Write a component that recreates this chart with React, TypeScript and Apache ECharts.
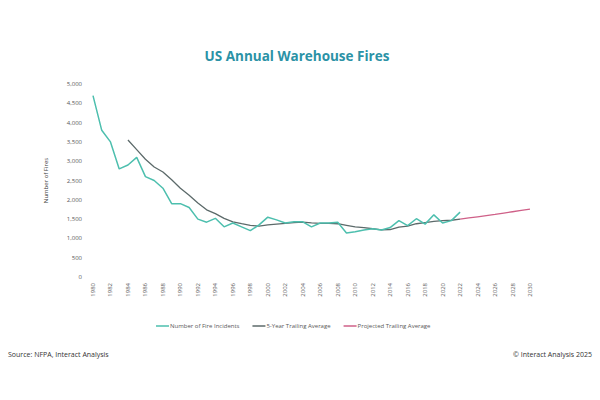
import React, { useEffect, useRef } from "react";
import * as echarts from "echarts";

const years = [
  "1980", "1981", "1982", "1983", "1984", "1985", "1986", "1987", "1988", "1989",
  "1990", "1991", "1992", "1993", "1994", "1995", "1996", "1997", "1998", "1999",
  "2000", "2001", "2002", "2003", "2004", "2005", "2006", "2007", "2008", "2009",
  "2010", "2011", "2012", "2013", "2014", "2015", "2016", "2017", "2018", "2019",
  "2020", "2021", "2022", "2023", "2024", "2025", "2026", "2027", "2028", "2029",
  "2030",
];

// 1980 - 2022
const fireIncidents = [
  4700, 3800, 3500, 2800, 2900, 3100, 2600, 2500, 2300, 1900,
  1900, 1800, 1500, 1420, 1520, 1300, 1400, 1300, 1200, 1350,
  1550, 1480, 1400, 1430, 1430, 1300, 1400, 1400, 1420, 1140,
  1170, 1220, 1250, 1220, 1280, 1460, 1330, 1510, 1370, 1610,
  1400, 1460, 1680,
];

// 1984 - 2022
const trailingAvg = [
  3550, 3300, 3050, 2850, 2720, 2520,
  2300, 2120, 1920, 1740, 1640, 1520, 1430, 1380, 1340, 1320,
  1350, 1370, 1390, 1410, 1420, 1400, 1390, 1390, 1380, 1340,
  1300, 1280, 1250, 1220, 1230, 1290, 1320, 1380, 1410, 1440,
  1460, 1470, 1500,
];

// 2022 - 2030
const projectedAvg = [1500, 1530, 1560, 1590, 1620, 1655, 1690, 1725, 1760];

const yTicks = { min: 0, max: 5000, interval: 500 };

const pad = (arr: number[], before: number) => {
  const out: (number | null)[] = [];
  for (let i = 0; i < years.length; i++) {
    const j = i - before;
    out.push(j >= 0 && j < arr.length ? arr[j] : null);
  }
  return out;
};

const FONT = "'Open Sans', 'Noto Sans', sans-serif";

const App: React.FC = () => {
  const chartRef = useRef<HTMLDivElement>(null);

  useEffect(() => {
    document.body.style.margin = "0";
    if (!chartRef.current) return;
    const chart = echarts.init(chartRef.current, null, { renderer: "svg" });

    const option: echarts.EChartsOption = {
      animation: false,
      backgroundColor: "#ffffff",
      textStyle: { fontFamily: FONT },
      title: {
        text: "US Annual Warehouse Fires",
        left: 292,
        top: 44,
        textAlign: "center",
        textStyle: {
          fontSize: 13.5,
          fontWeight: "bold",
          color: "#2b92a6",
          fontFamily: FONT,
        },
      },
      grid: { left: 93, right: 70, top: 84, bottom: 123 },
      legend: {
        top: 318,
        left: 151,
        itemWidth: 13,
        itemHeight: 1.5,
        itemGap: 13,
        icon: "rect",
        textStyle: { fontSize: 6, color: "#595959", padding: [0, 0, 0, -4] },
        data: [
          "Number of Fire Incidents",
          "5-Year Trailing Average",
          "Projected Trailing Average",
        ],
      },
      xAxis: {
        type: "category",
        data: years,
        boundaryGap: false,
        axisLine: { show: false },
        axisTick: { show: false },
        axisLabel: {
          interval: 1,
          rotate: 90,
          fontSize: 6,
          color: "#595959",
          margin: 6,
        },
      },
      yAxis: {
        type: "value",
        min: yTicks.min,
        max: yTicks.max,
        interval: yTicks.interval,
        name: "Number of Fires",
        nameLocation: "middle",
        nameRotate: 90,
        nameGap: 44,
        nameTextStyle: { fontSize: 6, color: "#404040" },
        axisLine: { show: false },
        axisTick: { show: false },
        splitLine: { show: false },
        axisLabel: {
          fontSize: 6,
          color: "#595959",
          margin: 11,
          formatter: (v: number) => v.toLocaleString("en-US"),
        },
      },
      series: [
        {
          name: "Number of Fire Incidents",
          type: "line",
          data: pad(fireIncidents, 0),
          showSymbol: false,
          lineStyle: { color: "#4dbfae", width: 1.5 },
          itemStyle: { color: "#4dbfae" },
          z: 3,
        },
        {
          name: "5-Year Trailing Average",
          type: "line",
          data: pad(trailingAvg, 4),
          showSymbol: false,
          lineStyle: { color: "#5c6a6a", width: 1.3 },
          itemStyle: { color: "#5c6a6a" },
          z: 2,
        },
        {
          name: "Projected Trailing Average",
          type: "line",
          data: pad(projectedAvg, 42),
          showSymbol: false,
          lineStyle: { color: "#cf6088", width: 1.3 },
          itemStyle: { color: "#cf6088" },
          z: 1,
        },
      ],
      graphic: [
        {
          type: "text",
          left: 8,
          top: 351,
          style: {
            text: "Source: NFPA, Interact Analysis",
            fontSize: 7,
            fill: "#333333",
            fontFamily: FONT,
          },
        },
        {
          type: "text",
          right: 8,
          top: 351,
          style: {
            text: "© Interact Analysis 2025",
            fontSize: 7,
            fill: "#333333",
            fontFamily: FONT,
          },
        },
      ],
    };

    chart.setOption(option);
    return () => {
      chart.dispose();
    };
  }, []);

  return <div ref={chartRef} style={{ width: 600, height: 400 }} />;
};

export default App;
